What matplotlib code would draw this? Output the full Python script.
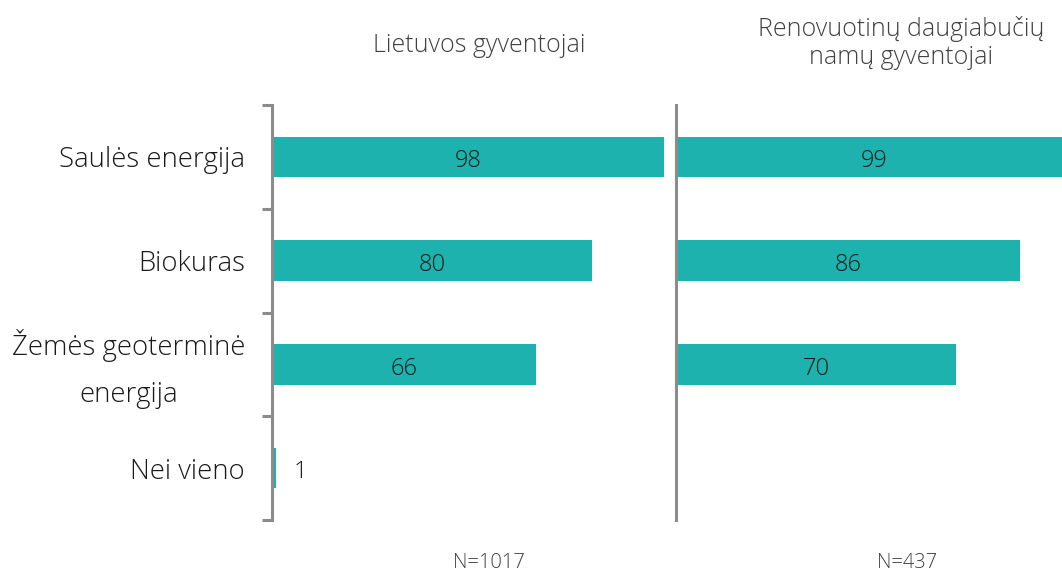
import matplotlib
matplotlib.use("Agg")
import matplotlib.pyplot as plt

categories = ["Saulės energija", "Biokuras", "Žemės geoterminė\nenergija", "Nei vieno"]
lt_values = [98, 80, 66, 1]
renov_values = [99, 86, 70, None]
panel_titles = ["Lietuvos gyventojai", "Renovuotinų daugiabučių\nnamų gyventojai"]
n_labels = ["N=1017", "N=437"]

plt.rcParams['font.family'] = ['Open Sans', 'DejaVu Sans']

W, H = 1062, 574
fig = plt.figure(figsize=(W / 100, H / 100), dpi=100)

bar_color = "#1DB2AD"
spine_color = "#8C8C8C"
y_top, y_bot = 105, 520
ax_bottom = 1 - y_bot / H
ax_height = (y_bot - y_top) / H

ax1 = fig.add_axes([272 / W, ax_bottom, 400 / W, ax_height])
ax2 = fig.add_axes([676 / W, ax_bottom, (W - 676) / W, ax_height])

ypos = list(range(len(categories)))

for ax, vals, xmax in [(ax1, lt_values, 100), (ax2, renov_values, (W - 676) / 4.0)]:
    ax.set_xlim(0, xmax)
    ax.set_ylim(len(categories) - 0.5, -0.5)
    for s in ["top", "right", "bottom"]:
        ax.spines[s].set_visible(False)
    ax.spines["left"].set_color(spine_color)
    ax.spines["left"].set_linewidth(2.2)
    ax.spines["left"].set_zorder(3)
    ax.set_xticks([])
    ax.patch.set_alpha(0)
    for y, v in zip(ypos, vals):
        if v is None:
            continue
        ax.barh(y, v, height=0.39, color=bar_color, zorder=1)
        tx = v / 2 if v >= 10 else v + 6
        ax.text(tx, y + 0.04, str(v), ha="center", va="center", fontsize=17,
                color="#1a1a1a", fontweight="light")

ax1.set_yticks([i - 0.5 for i in range(len(categories) + 1)])
ax1.set_yticklabels([])
ax1.tick_params(axis="y", length=7, width=2.2, color=spine_color, direction="out")
ax2.set_yticks([])

# category labels
for y, lab in zip(ypos, categories):
    multi = "\n" in lab
    ax1.annotate(lab, xy=(0, y), xycoords=("axes fraction", "data"),
                 xytext=(-19.5, -2.5 if not multi else -3.6), textcoords="offset points",
                 ha="right", va="center", ma="center", fontsize=19.8, color="#1a1a1a",
                 fontweight="light", linespacing=1.9, annotation_clip=False)

# titles
fig.text(479 / W, 1 - 46 / H, panel_titles[0], ha="center", va="center", fontsize=18,
         color="#404040", fontweight="light")
fig.text(901 / W, 1 - 43 / H, panel_titles[1], ha="center", va="center", fontsize=18,
         color="#404040", fontweight="light", linespacing=1.15)
fig.text(489 / W, 1 - 563 / H, n_labels[0], ha="center", va="center", fontsize=14.5,
         color="#404040", fontweight="light")
fig.text(907 / W, 1 - 563 / H, n_labels[1], ha="center", va="center", fontsize=14.5,
         color="#404040", fontweight="light")

fig.savefig("out.png", dpi=100)
